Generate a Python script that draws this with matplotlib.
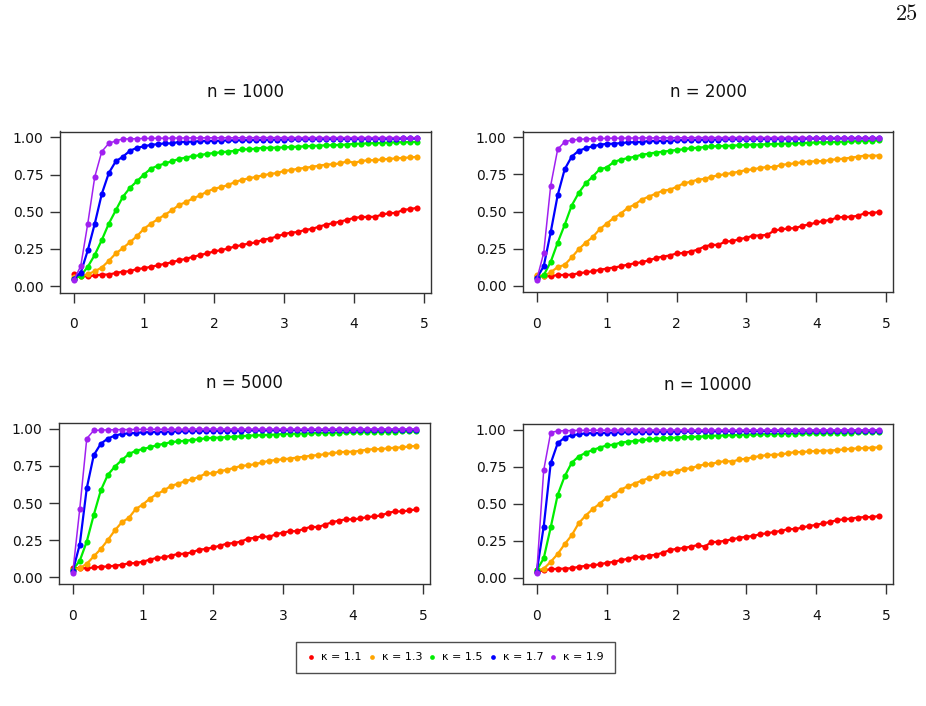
import matplotlib
matplotlib.use("Agg")
import matplotlib.pyplot as plt
from matplotlib.lines import Line2D

plt.rcParams['font.family'] = ['DejaVu Sans']

# ---------------- data ----------------
x_vals = [0.0, 0.1, 0.2, 0.3, 0.4, 0.5, 0.6, 0.7, 0.8, 0.9,
          1.0, 1.1, 1.2, 1.3, 1.4, 1.5, 1.6, 1.7, 1.8, 1.9,
          2.0, 2.1, 2.2, 2.3, 2.4, 2.5, 2.6, 2.7, 2.8, 2.9,
          3.0, 3.1, 3.2, 3.3, 3.4, 3.5, 3.6, 3.7, 3.8, 3.9,
          4.0, 4.1, 4.2, 4.3, 4.4, 4.5, 4.6, 4.7, 4.8, 4.9]

panel_titles = ["n = 1000", "n = 2000", "n = 5000", "n = 10000"]
kappa_labels = ["\u03ba = 1.1", "\u03ba = 1.3", "\u03ba = 1.5", "\u03ba = 1.7", "\u03ba = 1.9"]
series_colors = ["#FF0000", "#FFA500", "#00EE00", "#0000FF", "#A020F0"]

x_ticks = [0, 1, 2, 3, 4, 5]
y_ticks = [0.0, 0.25, 0.5, 0.75, 1.0]
y_tick_labels = ["0.00", "0.25", "0.50", "0.75", "1.00"]

# n = 1000
n1000_k11 = [0.08, 0.07, 0.065, 0.072, 0.077, 0.078, 0.088, 0.097, 0.10, 0.115,
             0.12, 0.13, 0.14, 0.15, 0.16, 0.174, 0.183, 0.197, 0.208, 0.22,
             0.233, 0.242, 0.253, 0.267, 0.276, 0.287, 0.294, 0.312, 0.32, 0.334,
             0.35, 0.36, 0.364, 0.378, 0.385, 0.40, 0.414, 0.423, 0.434, 0.446,
             0.459, 0.464, 0.466, 0.466, 0.482, 0.49, 0.493, 0.513, 0.518, 0.527]
n1000_k13 = [0.06, 0.065, 0.08, 0.10, 0.125, 0.17, 0.22, 0.255, 0.295, 0.335,
             0.385, 0.42, 0.45, 0.48, 0.51, 0.545, 0.565, 0.59, 0.61, 0.635,
             0.655, 0.665, 0.68, 0.70, 0.715, 0.725, 0.735, 0.745, 0.755, 0.76,
             0.775, 0.78, 0.79, 0.795, 0.803, 0.81, 0.817, 0.82, 0.825, 0.84,
             0.83, 0.84, 0.848, 0.846, 0.853, 0.855, 0.86, 0.862, 0.866, 0.869]
n1000_k15 = [0.05, 0.07, 0.13, 0.21, 0.31, 0.42, 0.51, 0.60, 0.66, 0.705,
             0.75, 0.79, 0.81, 0.825, 0.84, 0.855, 0.865, 0.875, 0.88, 0.89,
             0.895, 0.90, 0.905, 0.91, 0.92, 0.92, 0.925, 0.93, 0.93, 0.932,
             0.933, 0.936, 0.938, 0.94, 0.943, 0.945, 0.947, 0.948, 0.95, 0.952,
             0.957, 0.958, 0.96, 0.962, 0.963, 0.966, 0.967, 0.968, 0.969, 0.97]
n1000_k17 = [0.05, 0.09, 0.24, 0.42, 0.62, 0.76, 0.84, 0.87, 0.91, 0.93,
             0.94, 0.95, 0.955, 0.96, 0.96, 0.97, 0.97, 0.972, 0.975, 0.976,
             0.977, 0.978, 0.98, 0.98, 0.981, 0.982, 0.983, 0.984, 0.985, 0.985,
             0.986, 0.987, 0.987, 0.988, 0.988, 0.989, 0.989, 0.99, 0.99, 0.99,
             0.99, 0.991, 0.991, 0.991, 0.992, 0.992, 0.992, 0.993, 0.993, 0.993]
n1000_k19 = [0.04, 0.135, 0.42, 0.735, 0.905, 0.96, 0.977, 0.99, 0.99, 0.992,
             0.993, 0.994, 0.995, 0.995, 0.996, 0.996, 0.997, 0.997, 0.997, 0.998,
             0.998, 0.998, 0.998, 0.998, 0.998, 0.998, 0.999, 0.999, 0.999, 0.999,
             0.999, 0.999, 0.999, 0.999, 0.999, 0.999, 0.999, 0.999, 0.999, 0.999,
             0.999, 0.999, 0.999, 0.999, 0.999, 0.999, 0.999, 0.999, 0.999, 0.999]

# n = 2000
n2000_k11 = [0.065, 0.065, 0.063, 0.072, 0.072, 0.074, 0.083, 0.09, 0.097, 0.106,
             0.115, 0.122, 0.13, 0.142, 0.15, 0.158, 0.17, 0.185, 0.196, 0.203,
             0.217, 0.22, 0.23, 0.242, 0.264, 0.275, 0.275, 0.298, 0.30, 0.314,
             0.323, 0.338, 0.338, 0.343, 0.372, 0.38, 0.386, 0.388, 0.404, 0.413,
             0.426, 0.436, 0.443, 0.46, 0.463, 0.465, 0.472, 0.49, 0.49, 0.497]
n2000_k13 = [0.07, 0.065, 0.09, 0.125, 0.14, 0.19, 0.245, 0.29, 0.327, 0.38,
             0.418, 0.456, 0.485, 0.524, 0.546, 0.58, 0.60, 0.62, 0.64, 0.647,
             0.666, 0.69, 0.70, 0.715, 0.72, 0.735, 0.744, 0.753, 0.76, 0.77,
             0.78, 0.785, 0.795, 0.80, 0.80, 0.815, 0.82, 0.826, 0.833, 0.837,
             0.84, 0.84, 0.848, 0.853, 0.857, 0.864, 0.87, 0.878, 0.876, 0.878]
n2000_k15 = [0.05, 0.07, 0.16, 0.29, 0.41, 0.54, 0.625, 0.69, 0.735, 0.785,
             0.797, 0.833, 0.85, 0.86, 0.87, 0.883, 0.89, 0.898, 0.903, 0.91,
             0.915, 0.92, 0.927, 0.93, 0.935, 0.94, 0.941, 0.943, 0.945, 0.947,
             0.95, 0.951, 0.952, 0.954, 0.955, 0.957, 0.958, 0.96, 0.962, 0.964,
             0.966, 0.967, 0.968, 0.97, 0.971, 0.973, 0.975, 0.977, 0.978, 0.98]
n2000_k17 = [0.05, 0.13, 0.36, 0.61, 0.785, 0.87, 0.91, 0.927, 0.94, 0.95,
             0.957, 0.957, 0.962, 0.966, 0.968, 0.97, 0.975, 0.976, 0.977, 0.977,
             0.98, 0.982, 0.983, 0.984, 0.985, 0.985, 0.986, 0.987, 0.988, 0.988,
             0.989, 0.99, 0.99, 0.99, 0.991, 0.991, 0.992, 0.992, 0.992, 0.993,
             0.993, 0.993, 0.994, 0.994, 0.994, 0.994, 0.995, 0.995, 0.995, 0.995]
n2000_k19 = [0.04, 0.22, 0.675, 0.92, 0.97, 0.982, 0.987, 0.99, 0.991, 0.993,
             0.994, 0.995, 0.995, 0.996, 0.996, 0.997, 0.997, 0.997, 0.998, 0.998,
             0.998, 0.998, 0.998, 0.999, 0.999, 0.999, 0.999, 0.999, 0.999, 0.999,
             0.999, 0.999, 0.999, 0.999, 0.999, 0.999, 0.999, 0.999, 0.999, 0.999,
             0.999, 0.999, 0.999, 0.999, 0.999, 0.999, 0.999, 0.999, 0.999, 0.999]

# n = 5000
n5000_k11 = [0.06, 0.06, 0.06, 0.065, 0.07, 0.072, 0.077, 0.083, 0.093, 0.095,
             0.104, 0.118, 0.13, 0.133, 0.145, 0.156, 0.158, 0.167, 0.185, 0.19,
             0.20, 0.212, 0.226, 0.23, 0.24, 0.26, 0.265, 0.276, 0.271, 0.29,
             0.30, 0.31, 0.31, 0.326, 0.34, 0.337, 0.355, 0.37, 0.382, 0.39,
             0.39, 0.396, 0.405, 0.41, 0.416, 0.434, 0.443, 0.443, 0.45, 0.457]
n5000_k13 = [0.05, 0.06, 0.09, 0.14, 0.19, 0.25, 0.315, 0.37, 0.40, 0.46,
             0.49, 0.53, 0.56, 0.585, 0.615, 0.63, 0.647, 0.66, 0.676, 0.70,
             0.70, 0.715, 0.724, 0.737, 0.75, 0.755, 0.762, 0.774, 0.785, 0.79,
             0.796, 0.80, 0.807, 0.812, 0.82, 0.823, 0.83, 0.837, 0.842, 0.846,
             0.846, 0.853, 0.86, 0.864, 0.864, 0.87, 0.873, 0.876, 0.882, 0.885]
n5000_k15 = [0.05, 0.11, 0.24, 0.42, 0.585, 0.69, 0.745, 0.79, 0.83, 0.853,
             0.864, 0.876, 0.89, 0.90, 0.91, 0.916, 0.92, 0.925, 0.93, 0.937,
             0.94, 0.942, 0.945, 0.948, 0.95, 0.955, 0.956, 0.958, 0.96, 0.962,
             0.966, 0.967, 0.968, 0.969, 0.97, 0.973, 0.973, 0.974, 0.975, 0.976,
             0.977, 0.978, 0.979, 0.98, 0.98, 0.981, 0.982, 0.983, 0.983, 0.984]
n5000_k17 = [0.04, 0.22, 0.60, 0.823, 0.90, 0.935, 0.955, 0.966, 0.97, 0.973,
             0.977, 0.978, 0.98, 0.981, 0.982, 0.983, 0.984, 0.985, 0.986, 0.986,
             0.987, 0.988, 0.988, 0.989, 0.989, 0.99, 0.99, 0.99, 0.991, 0.991,
             0.991, 0.992, 0.992, 0.992, 0.993, 0.993, 0.993, 0.993, 0.994, 0.994,
             0.994, 0.994, 0.994, 0.995, 0.995, 0.995, 0.995, 0.995, 0.995, 0.995]
n5000_k19 = [0.03, 0.46, 0.935, 0.99, 0.992, 0.994, 0.995, 0.996, 0.996, 0.997,
             0.997, 0.997, 0.998, 0.998, 0.998, 0.998, 0.998, 0.999, 0.999, 0.999,
             0.999, 0.999, 0.999, 0.999, 0.999, 0.999, 0.999, 0.999, 0.999, 0.999,
             0.999, 0.999, 0.999, 0.999, 0.999, 0.999, 0.999, 0.999, 0.999, 0.999,
             0.999, 0.999, 0.999, 0.999, 0.999, 0.999, 0.999, 0.999, 0.999, 0.999]

# n = 10000
n10000_k11 = [0.04, 0.05, 0.057, 0.06, 0.061, 0.064, 0.073, 0.08, 0.084, 0.09,
              0.10, 0.107, 0.118, 0.127, 0.14, 0.14, 0.148, 0.155, 0.168, 0.186,
              0.195, 0.20, 0.21, 0.22, 0.21, 0.24, 0.243, 0.25, 0.26, 0.27,
              0.277, 0.282, 0.295, 0.30, 0.31, 0.316, 0.33, 0.328, 0.34, 0.35,
              0.357, 0.368, 0.377, 0.39, 0.395, 0.40, 0.407, 0.41, 0.41, 0.418]
n10000_k13 = [0.05, 0.06, 0.107, 0.16, 0.227, 0.286, 0.368, 0.42, 0.464, 0.50,
              0.54, 0.56, 0.595, 0.618, 0.636, 0.657, 0.673, 0.686, 0.71, 0.71,
              0.72, 0.736, 0.74, 0.755, 0.766, 0.77, 0.782, 0.789, 0.786, 0.80,
              0.805, 0.816, 0.823, 0.83, 0.832, 0.834, 0.843, 0.85, 0.85, 0.855,
              0.857, 0.86, 0.86, 0.864, 0.868, 0.873, 0.875, 0.877, 0.88, 0.882]
n10000_k15 = [0.05, 0.13, 0.34, 0.56, 0.686, 0.777, 0.82, 0.845, 0.864, 0.88,
              0.895, 0.90, 0.914, 0.92, 0.925, 0.93, 0.936, 0.94, 0.943, 0.945,
              0.948, 0.95, 0.952, 0.954, 0.956, 0.96, 0.961, 0.963, 0.964, 0.966,
              0.968, 0.969, 0.97, 0.971, 0.972, 0.973, 0.974, 0.975, 0.976, 0.977,
              0.977, 0.978, 0.979, 0.98, 0.981, 0.982, 0.983, 0.984, 0.985, 0.986]
n10000_k17 = [0.04, 0.345, 0.773, 0.91, 0.948, 0.964, 0.97, 0.977, 0.978, 0.979,
              0.98, 0.982, 0.983, 0.984, 0.985, 0.986, 0.987, 0.988, 0.988, 0.989,
              0.989, 0.99, 0.99, 0.99, 0.991, 0.991, 0.991, 0.992, 0.992, 0.992,
              0.993, 0.993, 0.993, 0.993, 0.994, 0.994, 0.994, 0.994, 0.995, 0.995,
              0.995, 0.995, 0.995, 0.995, 0.996, 0.996, 0.996, 0.996, 0.996, 0.996]
n10000_k19 = [0.03, 0.727, 0.982, 0.993, 0.995, 0.996, 0.997, 0.997, 0.998, 0.998,
              0.998, 0.998, 0.999, 0.999, 0.999, 0.999, 0.999, 0.999, 0.999, 0.999,
              0.999, 0.999, 0.999, 0.999, 0.999, 0.999, 0.999, 0.999, 0.999, 0.999,
              0.999, 0.999, 0.999, 0.999, 0.999, 0.999, 0.999, 0.999, 0.999, 0.999,
              0.999, 0.999, 0.999, 0.999, 0.999, 0.999, 0.999, 0.999, 0.999, 0.999]

panels = [
    [n1000_k11, n1000_k13, n1000_k15, n1000_k17, n1000_k19],
    [n2000_k11, n2000_k13, n2000_k15, n2000_k17, n2000_k19],
    [n5000_k11, n5000_k13, n5000_k15, n5000_k17, n5000_k19],
    [n10000_k11, n10000_k13, n10000_k15, n10000_k17, n10000_k19],
]

# ---------------- figure ----------------
W, H = 926, 706
fig = plt.figure(figsize=(W / 100, H / 100), dpi=100)
fig.patch.set_facecolor("white")

# axes boxes in pixel coords (left, top, right, bottom)
boxes = [(60, 131.5, 431, 292.5), (523, 131.5, 893, 292),
         (59, 423, 430, 583.5), (523, 424, 893, 584)]

spine_col = "#333333"
for i, (l, t, r, b) in enumerate(boxes):
    ax = fig.add_axes([l / W, 1 - b / H, (r - l) / W, (b - t) / H])
    for s, col, lab in zip(panels[i], series_colors, kappa_labels):
        lw = 1.1 if col == "#A020F0" else 1.6
        ax.plot(x_vals, s, color=col, lw=lw, marker="o", ms=4.4,
                markeredgewidth=0, label=lab)
    ax.set_xlim(-0.196, 5.096)
    ax.set_ylim(-0.043, 1.04)
    ax.set_xticks(x_ticks)
    ax.set_xticklabels([str(v) for v in x_ticks])
    ax.set_yticks(y_ticks)
    ax.set_yticklabels(y_tick_labels)
    for sp in ax.spines.values():
        sp.set_color(spine_col)
        sp.set_linewidth(1.0)
    ax.tick_params(axis="x", direction="out", length=7, width=1.0,
                   color=spine_col, labelsize=10, pad=11, labelcolor="#111111")
    ax.tick_params(axis="y", direction="out", length=7, width=1.0,
                   color=spine_col, labelsize=10, pad=5, labelcolor="#111111")
    # title
    tcy = (t - 39.5)
    fig.text(((l + r) / 2) / W, 1 - tcy / H, panel_titles[i], ha="center",
             va="center", fontsize=12, color="#111111")

# legend
handles = [Line2D([], [], color=c, marker="o", ls="none", ms=3.4,
                  markeredgewidth=0) for c in series_colors]
leg = fig.legend(handles, kappa_labels, loc="center",
                 bbox_to_anchor=(455.5 / W, 1 - 657.5 / H), ncol=5,
                 fontsize=8, frameon=True, fancybox=False, handlelength=0.8,
                 handletextpad=0.5, columnspacing=0.5, borderpad=0.95,
                 borderaxespad=0)
leg.get_frame().set_edgecolor("#222222")
leg.get_frame().set_linewidth(1.0)

# page number
fig.text(907 / W, 1 - 14.5 / H, "25", ha="center", va="center",
         fontsize=16, family="cmr10", color="#111111")

fig.savefig("out.png", dpi=100, facecolor="white")
